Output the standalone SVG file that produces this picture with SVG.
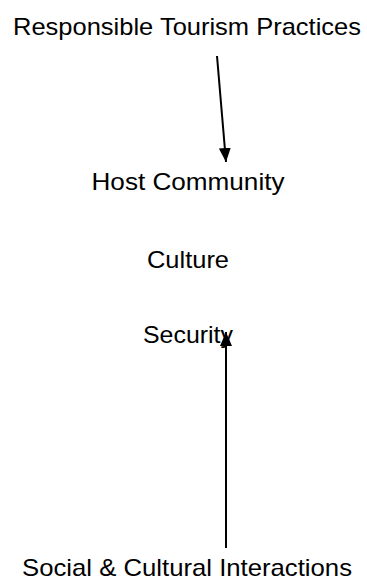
<svg xmlns="http://www.w3.org/2000/svg" width="367" height="580" viewBox="0 0 367 580">
<defs>
<style>
.t{font-family:"Liberation Sans",Arial,Helvetica,sans-serif;font-size:24px;fill:#000;text-anchor:middle}
.c{stroke:#000;stroke-width:2;fill:none}
</style>
<marker id="ah" viewBox="0 0 14 12" refX="14" refY="6" markerWidth="14" markerHeight="12" orient="auto" markerUnits="userSpaceOnUse">
<path d="M0,0 L14,6 L0,12 z" fill="#000"/>
</marker>
</defs>
<rect width="367" height="580" fill="#fff"/>
<g id="connectors">
<line class="c" x1="217" y1="56" x2="226" y2="162" marker-end="url(#ah)"/>
<line class="c" x1="226" y1="548" x2="226" y2="332" marker-end="url(#ah)"/>
</g>
<g id="node-responsible"><text class="t" x="187" y="35" textLength="348" lengthAdjust="spacingAndGlyphs">Responsible Tourism Practices</text></g>
<g id="node-host"><text class="t" x="188" y="190" textLength="193" lengthAdjust="spacingAndGlyphs">Host Community</text></g>
<g id="node-culture"><text class="t" x="188" y="268" textLength="82" lengthAdjust="spacingAndGlyphs">Culture</text></g>
<g id="node-security"><text class="t" x="188" y="343" textLength="90" lengthAdjust="spacingAndGlyphs">Security</text></g>
<g id="node-social"><text class="t" x="187" y="576" textLength="330" lengthAdjust="spacingAndGlyphs">Social &amp; Cultural Interactions</text></g>
</svg>
